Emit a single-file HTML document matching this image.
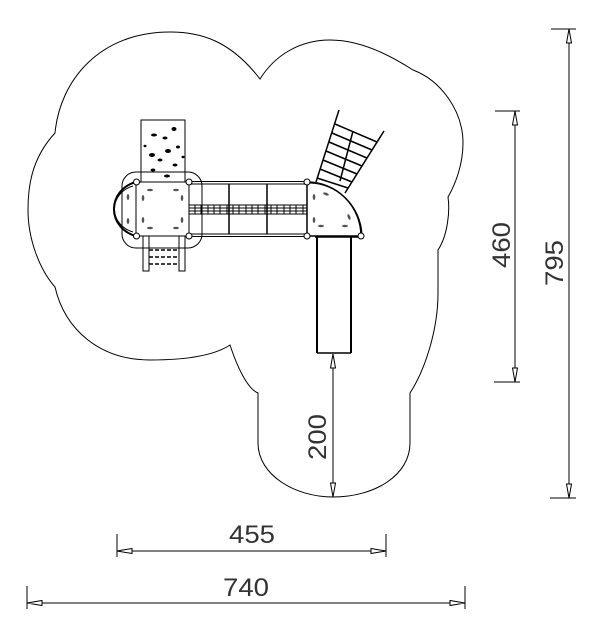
<!DOCTYPE html>
<html><head><style>html,body{margin:0;padding:0;background:#fff}svg{display:block}</style></head>
<body>
<svg width="604" height="639" viewBox="0 0 604 639" xmlns="http://www.w3.org/2000/svg" fill="none" stroke="#000" stroke-width="1">
<path d="M260,79 C230,40 200,32 170,32 C100,32 60,80 55,133 C30,160 28,190 28,210 C28,240 40,270 55,287 C65,330 100,360 150,360 C190,360 215,355 230,345 C240,375 250,390 258,393 L258,443 C258,475 295,497 333,497 C375,497 410,475 410,443 L410,393 C425,370 438,330 438,293 L438,250 C448,235 450,210 448,197 C455,185 463,165 463,143 C463,110 440,80 413,70 C390,55 360,40 330,40 C300,40 275,55 260,79 Z"/>
<rect x="141" y="120" width="44" height="62"/>
<g fill="#000" stroke="none">
<ellipse cx="154" cy="135" rx="3" ry="1.5"/><ellipse cx="174" cy="129" rx="2.5" ry="2"/><ellipse cx="165" cy="138" rx="2.5" ry="1.5"/>
<ellipse cx="152" cy="155" rx="3" ry="2"/><ellipse cx="168" cy="151" rx="3" ry="2"/><ellipse cx="178" cy="147" rx="2" ry="1.5"/>
<ellipse cx="160" cy="160" rx="2.5" ry="1.5"/><ellipse cx="175" cy="165" rx="2.5" ry="1.5"/><ellipse cx="153" cy="170" rx="2.5" ry="1.5"/>
<ellipse cx="167" cy="176" rx="3" ry="1.5"/><ellipse cx="145" cy="146" rx="1.5" ry="1.2"/><ellipse cx="183" cy="157" rx="1.5" ry="1.2"/>
</g>
<rect x="122" y="172" width="80" height="76" rx="14"/>
<rect x="136" y="182" width="53" height="54"/>
<path d="M136,182 A30,28 0 0 0 136,236" stroke-width="2"/>
<path d="M133,186 A26,24 0 0 0 133,232"/>
<g fill="#555" stroke="none">
<ellipse cx="150" cy="190" rx="3" ry="1.3"/><ellipse cx="176" cy="190" rx="3" ry="1.3"/>
<ellipse cx="150" cy="228" rx="3" ry="1.3"/><ellipse cx="176" cy="228" rx="3" ry="1.3"/>
<ellipse cx="143" cy="198" rx="1.3" ry="3"/><ellipse cx="182" cy="198" rx="1.3" ry="3"/>
<ellipse cx="143" cy="220" rx="1.3" ry="3"/><ellipse cx="182" cy="220" rx="1.3" ry="3"/>
<ellipse cx="128" cy="197" rx="1.3" ry="3"/><ellipse cx="128" cy="221" rx="1.3" ry="3"/>
</g>
<path d="M143,236 V271 H149 V236 M179,236 V271 H185 V236"/>
<path d="M149,250 H179 M149,257 H179 M149,264 H179" stroke-width="1.5" stroke-dasharray="4,2"/>
<path d="M189,181.5 H307 M189,184 H307 M189,234 H307 M189,236.5 H307"/>
<path d="M229,184 V234 M267,184 V234" stroke-width="1.5"/>
<path d="M189,205 H307 M189,208 H307 M189,211 H307 M189,214 H307"/>
<path d="M195,205 V214 M201,205 V214 M208,205 V214 M214,205 V214 M220,205 V214 M227,205 V214 M233,205 V214 M239,205 V214 M246,205 V214 M252,205 V214 M258,205 V214 M265,205 V214 M271,205 V214 M277,205 V214 M284,205 V214 M290,205 V214 M296,205 V214 M303,205 V214"/>
<path d="M307,182 V236 H361 A54,54 0 0 0 307,182 Z" stroke-width="1.5"/>
<path d="M310,183 A54,54 0 0 1 362,234"/>
<g fill="#555" stroke="none">
<ellipse cx="326" cy="194" rx="3" ry="1.3" transform="rotate(20 326 194)"/><ellipse cx="349" cy="217" rx="1.3" ry="3" transform="rotate(-20 349 217)"/>
<ellipse cx="321" cy="226" rx="3" ry="1.3"/><ellipse cx="345" cy="226" rx="3" ry="1.3"/>
<ellipse cx="314" cy="197" rx="1.3" ry="3"/><ellipse cx="314" cy="220" rx="1.3" ry="3"/>
</g>
<path d="M316,182 L339,110 M345,193 L384,131" stroke-width="1.5"/>
<path d="M335,124 L377,142 M332,133 L372,150 M329,142 L367,158 M326,151 L362,166 M323,160 L357,174 M320,169 L352,182 M317,178 L348,188 M353,131 L340,181" stroke-width="1.5"/>
<path d="M317,236 V353 M351,236 V353" stroke-width="2"/>
<path d="M317,353 H351 M315,237 H358" stroke-width="1.5"/>
<g fill="#fff" stroke="#000">
<circle cx="136.5" cy="182" r="3"/><circle cx="189" cy="182" r="3"/><circle cx="136.5" cy="236" r="3"/><circle cx="189" cy="236" r="3"/>
<circle cx="307" cy="182" r="3"/><circle cx="307" cy="236" r="3"/><circle cx="361" cy="236" r="3"/>
</g>
<g stroke-width="1">
<path d="M569,29 V498 M551,29 H576 M550,498 H576"/>
<path d="M515,111 V382 M495,111 H520 M494,382 H520"/>
<path d="M333,354 V497"/>
<path d="M117,551 H386 M117,534 V557 M386,534 V557"/>
<path d="M27,603 H465 M27,586 V609 M465,586 V609"/>
</g>
<g fill="#fff" stroke="#000">
<path d="M569,29 L566.5,43 H571.5 Z M569,498 L566.5,484 H571.5 Z"/>
<path d="M515,111 L512.5,125 H517.5 Z M515,382 L512.5,368 H517.5 Z"/>
<path d="M333,354 L330.5,368 H335.5 Z M333,497 L330.5,483 H335.5 Z"/>
<path d="M117,551 L132,548.5 V553.5 Z M386,551 L371,548.5 V553.5 Z"/>
<path d="M27,603 L42,600.5 V605.5 Z M465,603 L450,600.5 V605.5 Z"/>
</g>
<g fill="#333" stroke="none" font-family="Liberation Sans, sans-serif" font-size="25" text-anchor="middle">
<text x="252" y="543" textLength="46" lengthAdjust="spacingAndGlyphs">455</text>
<text x="246" y="596" textLength="46" lengthAdjust="spacingAndGlyphs">740</text>
<text transform="translate(510,245) rotate(-90)" textLength="46" lengthAdjust="spacingAndGlyphs">460</text>
<text transform="translate(563,263) rotate(-90)" textLength="46" lengthAdjust="spacingAndGlyphs">795</text>
<text transform="translate(326,437) rotate(-90)" textLength="46" lengthAdjust="spacingAndGlyphs">200</text>
</g>
</svg>
</body></html>
